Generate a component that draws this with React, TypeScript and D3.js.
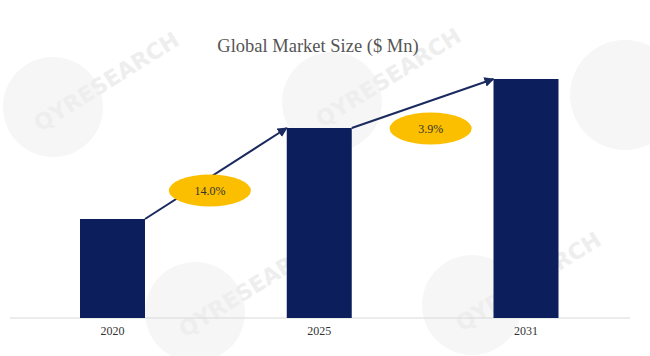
import React from "react";
import * as d3 from "d3";

const categories = ["2020", "2025", "2031"];
const values = [99, 190, 239];
const cagrLabels = ["14.0%", "3.9%"];
const title = "Global Market Size ($ Mn)";

const W = 650;
const H = 356;
const baseline = 318;
const barW = 65;

export default function App() {
  const x = d3.scalePoint<string>().domain(categories).range([112.5, 526]);
  const y = d3.scaleLinear().domain([0, 239]).range([baseline, 79]);

  const watermarks = [
    { cx: 53, cy: 107, r: 50, tx: 40, ty: 132, fs: 22 },
    { cx: 332, cy: 102, r: 50, tx: 322, ty: 128, fs: 22 },
    { cx: 625, cy: 95, r: 55, tx: 0, ty: 0, fs: 0 },
    { cx: 195, cy: 312, r: 50, tx: 185, ty: 338, fs: 22 },
    { cx: 472, cy: 305, r: 50, tx: 462, ty: 332, fs: 22 },
  ];

  return (
    <svg width={W} height={H} style={{ position: "absolute", left: 0, top: 0, background: "#fff" }}>
      <defs>
        <marker id="arr" viewBox="0 0 10 10" refX="9" refY="5" markerWidth="5" markerHeight="5" orient="auto">
          <path d="M0,0 L10,5 L0,10 z" fill="#1a2a5e" />
        </marker>
      </defs>
      <g>
        {watermarks.map((w, i) => (
          <g key={i}>
            <circle cx={w.cx} cy={w.cy} r={w.r} fill="#f6f6f6" />
            {w.fs > 0 && (
              <text
                x={w.tx}
                y={w.ty}
                transform={`rotate(-32 ${w.tx} ${w.ty})`}
                fontFamily="DejaVu Sans"
                fontWeight="bold"
                fontSize={w.fs}
                fill="#eeeeee"
              >
                QYRESEARCH
              </text>
            )}
          </g>
        ))}
      </g>
      <text
        x={318}
        y={52}
        textAnchor="middle"
        fontFamily="Liberation Serif"
        fontSize={18.5}
        fill="#555"
      >
        {title}
      </text>
      <line x1={10} x2={630} y1={baseline} y2={baseline} stroke="#d9d9d9" strokeWidth={1} />
      {categories.map((c, i) => (
        <rect
          key={c}
          x={(x(c) as number) - barW / 2}
          y={y(values[i])}
          width={barW}
          height={baseline - y(values[i])}
          fill="#0c1f5c"
        />
      ))}
      {categories.map((c) => (
        <text
          key={"l" + c}
          x={x(c) as number}
          y={335}
          textAnchor="middle"
          fontFamily="Liberation Serif"
          fontSize={12}
          fill="#333"
        >
          {c}
        </text>
      ))}
      {cagrLabels.map((lab, i) => {
        const x1 = (x(categories[i]) as number) + barW / 2;
        const y1 = y(values[i]);
        const x2 = (x(categories[i + 1]) as number) - barW / 2;
        const y2 = y(values[i + 1]);
        const mx = (x1 + x2) / 2 + (i === 0 ? -6 : 8);
        const my = (y1 + y2) / 2 + (i === 0 ? 17 : 25);
        return (
          <g key={lab}>
            <line x1={x1} y1={y1} x2={x2} y2={y2} stroke="#1a2a5e" strokeWidth={2} markerEnd="url(#arr)" />
            <ellipse cx={mx} cy={my} rx={41} ry={16} fill="#fbbf00" />
            <text
              x={mx}
              y={my + 4}
              textAnchor="middle"
              fontFamily="Liberation Serif"
              fontSize={12}
              fill="#333"
            >
              {lab}
            </text>
          </g>
        );
      })}
    </svg>
  );
}
